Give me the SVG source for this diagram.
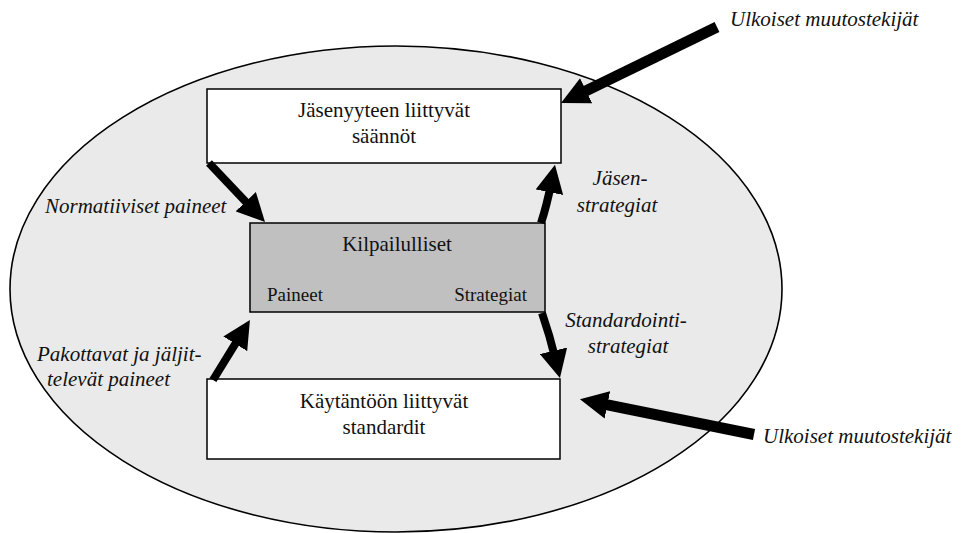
<svg xmlns="http://www.w3.org/2000/svg" width="965" height="533" viewBox="0 0 965 533">
<style>
.box{fill:#ffffff;stroke:#000;stroke-width:1.5}
.core{fill:#c0c0c0;stroke:#000;stroke-width:1.5}
.t{font-family:"Liberation Serif","Times New Roman",serif;font-size:21px;fill:#111}
.s{font-family:"Liberation Serif","Times New Roman",serif;font-size:19px;fill:#111}
.i{font-family:"Liberation Serif","Times New Roman",serif;font-size:21px;font-style:italic;fill:#111}
.a{fill:none;stroke:#000;marker-end:url(#ah)}
</style>
<defs>
<marker id="ah" markerUnits="userSpaceOnUse" markerWidth="28" markerHeight="28" viewBox="0 0 28 28" refX="10" refY="14" orient="auto">
<path d="M0,0 L28,14 L0,28 z" fill="#000"/>
</marker>
</defs>
<g id="context">
<ellipse cx="396" cy="289" rx="386" ry="243" fill="#eaeaea" stroke="#000" stroke-width="1.6"/>
</g>
<g id="node-rules">
<rect class="box" x="207" y="89" width="354" height="74"/>
<text class="t" x="384" y="117" text-anchor="middle">Jäsenyyteen liittyvät</text>
<text class="t" x="384" y="143" text-anchor="middle">säännöt</text>
</g>
<g id="node-competitive">
<rect class="core" x="250" y="223" width="295" height="89"/>
<text class="t" x="397" y="251" text-anchor="middle">Kilpailulliset</text>
<text class="s" x="267" y="301">Paineet</text>
<text class="s" x="527" y="301" text-anchor="end">Strategiat</text>
</g>
<g id="node-standards">
<rect class="box" x="207" y="379" width="353" height="80"/>
<text class="t" x="384" y="408" text-anchor="middle">Käytäntöön liittyvät</text>
<text class="t" x="384" y="434" text-anchor="middle">standardit</text>
</g>
<g id="connectors">
<path class="a" stroke-width="11" d="M717,27 L577.2,95.1"/>
<path class="a" stroke-width="8" d="M209,163 L252.6,208.9"/>
<path class="a" stroke-width="8" d="M213,380 L240.5,335.3"/>
<path class="a" stroke-width="8" d="M541,223 Q546.4,207 551.4,182.4"/>
<path class="a" stroke-width="8" d="M542,313 Q550,336 555.8,360.5"/>
<path class="a" stroke-width="11" d="M754,434.5 L597.6,402.9"/>
</g>
<g id="labels">
<text class="i" x="730" y="26">Ulkoiset muutostekijät</text>
<text class="i" x="45" y="213">Normatiiviset paineet</text>
<text class="i" x="37" y="361">Pakottavat ja jäljit-</text>
<text class="i" x="47" y="386">televät paineet</text>
<text class="i" x="620" y="185" text-anchor="middle">Jäsen-</text>
<text class="i" x="617" y="212" text-anchor="middle">strategiat</text>
<text class="i" x="626" y="327" text-anchor="middle">Standardointi-</text>
<text class="i" x="628" y="353" text-anchor="middle">strategiat</text>
<text class="i" x="763" y="443">Ulkoiset muutostekijät</text>
</g>
</svg>
